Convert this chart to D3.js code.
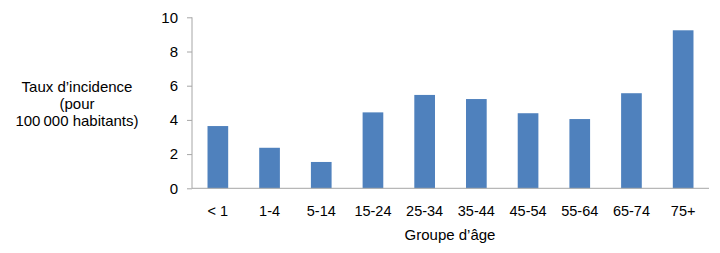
<!DOCTYPE html>
<html><head><meta charset="utf-8">
<script src="https://cdn.jsdelivr.net/npm/d3@7"></script>
<style>body{margin:0;background:#fff}svg{display:block}text{font-family:"Liberation Sans",Arial,sans-serif;fill:#000}</style>
</head><body><svg id="c" width="720" height="253"></svg>
<script>
const categories = ["< 1","1-4","5-14","15-24","25-34","35-44","45-54","55-64","65-74","75+"];
const values = [3.64,2.37,1.54,4.44,5.46,5.22,4.39,4.05,5.56,9.24];
const yTicks = [0,2,4,6,8,10];
const yLabelLines = ["Taux d\u2019incidence","(pour","100\u2009000 habitants)"];
const xTitle = "Groupe d\u2019\u00e2ge";

const svg = d3.select("#c");
const x = d3.scaleBand().domain(categories).range([192,709]).paddingInner(0.6).paddingOuter(0.3);
const y = d3.scaleLinear().domain([0,10]).range([188.3,17.3]);

svg.append("g").selectAll("rect").data(values).join("rect")
  .attr("x",(d,i)=>x(categories[i])).attr("width",x.bandwidth())
  .attr("y",d=>y(d)).attr("height",d=>y(0)-y(d)).attr("fill","#4F81BD");

const ya = svg.append("g").attr("transform","translate(192,0)")
  .call(d3.axisLeft(y).tickValues(yTicks).tickSize(5).tickPadding(9).tickFormat(d3.format("d")));
ya.select(".domain").attr("stroke","#a6a6a6").attr("d","M0,17.3V188.3");
ya.selectAll(".tick line").attr("stroke","#a6a6a6");
ya.selectAll(".tick text").style("font-size","15px").attr("fill","#000");

const xa = svg.append("g").attr("transform","translate(0,188.3)")
  .call(d3.axisBottom(x).tickSize(0).tickPadding(17));
xa.select(".domain").attr("stroke","#a6a6a6").attr("d","M192,0H709");
xa.selectAll(".tick text").style("font-size","14.5px").attr("fill","#000");

svg.append("text").attr("x",450).attr("y",239.5).attr("text-anchor","middle").style("font-size","15px").text(xTitle);

svg.append("text").attr("text-anchor","middle").style("font-size","15px")
  .selectAll("tspan").data(yLabelLines).join("tspan")
  .attr("x",77).attr("y",(d,i)=>92+i*17).text(d=>d);
</script></body></html>
